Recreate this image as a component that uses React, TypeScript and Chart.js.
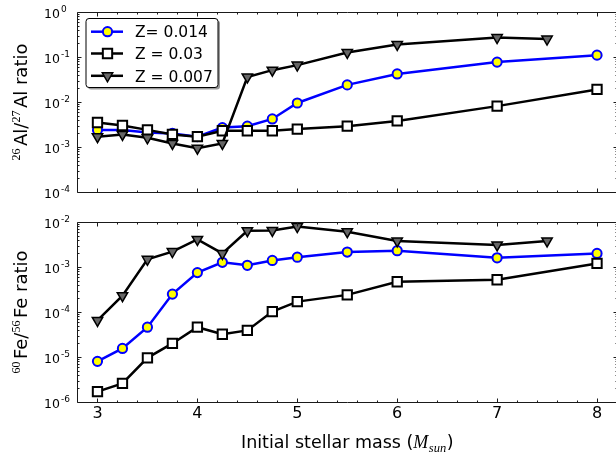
import React, { useEffect, useRef } from 'react';
import { Chart, registerables } from 'chart.js';

Chart.register(...registerables);

// ---------- data ----------
const massesMain = [3, 3.25, 3.5, 3.75, 4, 4.25, 4.5, 4.75, 5, 5.5, 6, 7, 8];
const massesLowZ = [3, 3.25, 3.5, 3.75, 4, 4.25, 4.5, 4.75, 5, 5.5, 6, 7, 7.5];

const seriesLabels = ['Z= 0.014', 'Z = 0.03', 'Z = 0.007'];

const alZ014 = [2.4e-3, 2.4e-3, 2.1e-3, 2.0e-3, 1.7e-3, 2.7e-3, 2.9e-3, 4.2e-3, 9.5e-3, 2.4e-2, 4.2e-2, 7.7e-2, 0.11];
const alZ03 = [3.5e-3, 3.0e-3, 2.4e-3, 1.9e-3, 1.7e-3, 2.3e-3, 2.3e-3, 2.3e-3, 2.5e-3, 2.9e-3, 3.8e-3, 8.1e-3, 1.9e-2];
const alZ007 = [1.7e-3, 1.9e-3, 1.6e-3, 1.2e-3, 9.4e-4, 1.2e-3, 3.6e-2, 5.1e-2, 6.6e-2, 0.126, 0.19, 0.27, 0.25];

const feZ014 = [8.0e-6, 1.55e-5, 4.6e-5, 2.5e-4, 7.5e-4, 1.27e-3, 1.09e-3, 1.4e-3, 1.65e-3, 2.15e-3, 2.3e-3, 1.6e-3, 2.0e-3];
const feZ03 = [1.7e-6, 2.6e-6, 9.6e-6, 2.0e-5, 4.6e-5, 3.2e-5, 3.9e-5, 1.02e-4, 1.7e-4, 2.4e-4, 4.7e-4, 5.2e-4, 1.2e-3];
const feZ007 = [6.5e-5, 2.3e-4, 1.48e-3, 2.2e-3, 4.1e-3, 2.0e-3, 6.4e-3, 6.5e-3, 7.9e-3, 6.1e-3, 3.8e-3, 3.1e-3, 3.8e-3];

const xTickValues = [3, 4, 5, 6, 7, 8];
const xMin = 2.8;
const xMax = 8.2;
const topDecades = [-4, -3, -2, -1, 0];
const bottomDecades = [-6, -5, -4, -3, -2];

// ---------- styles ----------
const SANS = '"DejaVu Sans", sans-serif';
const SERIF = '"Liberation Serif", "DejaVu Serif", serif';

type Style = { color: string; fill: string; shape: 'circle' | 'rect' | 'triangle'; radius: number; bw: number; lw: number };
const STYLES: Style[] = [
  { color: '#0000ff', fill: '#ffff00', shape: 'circle', radius: 4.6, bw: 2, lw: 2.5 },
  { color: '#000000', fill: '#ffffff', shape: 'rect', radius: 6.6, bw: 2, lw: 2.5 },
  { color: '#000000', fill: '#666666', shape: 'triangle', radius: 6, bw: 1.5, lw: 2.5 },
];

type Seg = { t: string; font: string; dy?: number; gap?: number };

function segWidth(ctx: CanvasRenderingContext2D, segs: Seg[]) {
  let w = 0;
  for (const s of segs) {
    ctx.font = s.font;
    w += ctx.measureText(s.t).width + (s.gap || 0);
  }
  return w;
}

function drawSegs(ctx: CanvasRenderingContext2D, segs: Seg[], x: number, y: number) {
  let cx = x;
  for (const s of segs) {
    ctx.font = s.font;
    ctx.fillText(s.t, cx, y + (s.dy || 0));
    cx += ctx.measureText(s.t).width + (s.gap || 0);
  }
}

function drawMarker(ctx: CanvasRenderingContext2D, st: Style, x: number, y: number) {
  ctx.save();
  ctx.beginPath();
  const r = st.radius;
  if (st.shape === 'circle') {
    ctx.arc(x, y, r, 0, Math.PI * 2);
  } else if (st.shape === 'rect') {
    const s = Math.SQRT1_2 * r;
    ctx.rect(x - s, y - s, 2 * s, 2 * s);
  } else {
    let rad = Math.PI;
    ctx.moveTo(x + Math.sin(rad) * r, y - Math.cos(rad) * r);
    rad += (2 * Math.PI) / 3;
    ctx.lineTo(x + Math.sin(rad) * r, y - Math.cos(rad) * r);
    rad += (2 * Math.PI) / 3;
    ctx.lineTo(x + Math.sin(rad) * r, y - Math.cos(rad) * r);
    ctx.closePath();
  }
  ctx.fillStyle = st.fill;
  ctx.fill();
  ctx.lineWidth = st.bw;
  ctx.strokeStyle = st.color;
  ctx.stroke();
  ctx.restore();
}

function makeDatasets(vals: number[][]) {
  const xs = [massesMain, massesMain, massesLowZ];
  return vals.map((v, i) => {
    const st = STYLES[i];
    return {
      label: seriesLabels[i],
      data: xs[i].map((x, j) => ({ x, y: v[j] })),
      borderColor: st.color,
      borderWidth: st.lw,
      backgroundColor: st.fill,
      pointStyle: st.shape,
      pointRadius: st.radius,
      pointBorderWidth: st.bw,
      pointBorderColor: st.color,
      pointBackgroundColor: st.fill,
      pointRotation: st.shape === 'triangle' ? 180 : 0,
      fill: false,
      tension: 0,
      order: 3 - i,
    };
  });
}

type PanelCfg = {
  decades: number[];
  showX: boolean;
  title: Seg[];
  legend: boolean;
};

function framePlugin(cfg: PanelCfg) {
  return {
    id: 'frame',
    afterDraw(chart: any) {
      const { ctx, chartArea: a, scales } = chart;
      const xs = scales.x;
      const ys = scales.y;
      const L = Math.floor(a.left) + 0.5;
      const R = Math.floor(a.right) + 0.5;
      const T = Math.floor(a.top) + 0.5;
      const B = Math.floor(a.bottom) + 0.5;
      ctx.save();
      ctx.strokeStyle = '#1a1a1a';
      ctx.lineWidth = 1;
      ctx.beginPath();
      ctx.rect(L, T, R - L, B - T);
      ctx.stroke();
      ctx.beginPath();
      for (let k = Math.round(xMin * 5) + 1; k < Math.round(xMax * 5); k++) {
        const v = k / 5;
        const px = Math.round(xs.getPixelForValue(v)) + 0.5;
        const len = k % 5 === 0 ? 4 : 2;
        ctx.moveTo(px, B);
        ctx.lineTo(px, B - len);
        ctx.moveTo(px, T);
        ctx.lineTo(px, T + len);
      }
      const dTop = cfg.decades[cfg.decades.length - 1];
      for (const d of cfg.decades) {
        const py = Math.round(ys.getPixelForValue(Math.pow(10, d))) + 0.5;
        ctx.moveTo(L, py);
        ctx.lineTo(L + 4, py);
        ctx.moveTo(R, py);
        ctx.lineTo(R - 4, py);
        if (d < dTop) {
          for (let m = 2; m <= 9; m++) {
            const pm = Math.round(ys.getPixelForValue(m * Math.pow(10, d))) + 0.5;
            ctx.moveTo(L, pm);
            ctx.lineTo(L + 2, pm);
            ctx.moveTo(R, pm);
            ctx.lineTo(R - 2, pm);
          }
        }
      }
      ctx.stroke();

      ctx.fillStyle = '#000';
      ctx.textBaseline = 'alphabetic';
      for (const d of cfg.decades) {
        const py = ys.getPixelForValue(Math.pow(10, d));
        ctx.font = `12.5px ${SANS}`;
        ctx.textAlign = 'right';
        ctx.fillText('10', 60, py + 6);
        ctx.font = `9px ${SANS}`;
        ctx.textAlign = 'left';
        ctx.fillText(String(d), 61, py - 0.5);
      }

      ctx.save();
      ctx.textAlign = 'left';
      ctx.translate(27, (a.top + a.bottom) / 2);
      ctx.rotate(-Math.PI / 2);
      const tw = segWidth(ctx, cfg.title);
      drawSegs(ctx, cfg.title, -tw / 2, 0);
      ctx.restore();

      if (cfg.showX) {
        ctx.font = `16px ${SANS}`;
        ctx.textAlign = 'center';
        for (const v of xTickValues) {
          ctx.fillText(String(v), xs.getPixelForValue(v), a.bottom + 16);
        }
        const xt: Seg[] = [
          { t: 'Initial stellar mass (', font: `17.5px ${SANS}` },
          { t: 'M', font: `italic 18px ${SERIF}`, gap: 0.5 },
          { t: 'sun', font: `italic 12.5px ${SERIF}`, dy: 3.5, gap: 0.5 },
          { t: ')', font: `17.5px ${SANS}` },
        ];
        ctx.textAlign = 'left';
        const w = segWidth(ctx, xt);
        drawSegs(ctx, xt, (a.left + a.right) / 2 - w / 2, a.bottom + 46);
      }

      if (cfg.legend) {
        const bx = 86, by = 18.5, bw = 132, bh = 69, rr = 3;
        const path = (ox: number, oy: number) => {
          ctx.beginPath();
          ctx.moveTo(bx + ox + rr, by + oy);
          ctx.lineTo(bx + ox + bw - rr, by + oy);
          ctx.quadraticCurveTo(bx + ox + bw, by + oy, bx + ox + bw, by + oy + rr);
          ctx.lineTo(bx + ox + bw, by + oy + bh - rr);
          ctx.quadraticCurveTo(bx + ox + bw, by + oy + bh, bx + ox + bw - rr, by + oy + bh);
          ctx.lineTo(bx + ox + rr, by + oy + bh);
          ctx.quadraticCurveTo(bx + ox, by + oy + bh, bx + ox, by + oy + bh - rr);
          ctx.lineTo(bx + ox, by + oy + rr);
          ctx.quadraticCurveTo(bx + ox, by + oy, bx + ox + rr, by + oy);
          ctx.closePath();
        };
        path(2, 2);
        ctx.fillStyle = '#9a9a9a';
        ctx.fill();
        path(0, 0);
        ctx.fillStyle = '#ffffff';
        ctx.fill();
        ctx.strokeStyle = '#000';
        ctx.lineWidth = 1;
        ctx.stroke();
        const rows = [31.7, 53.5, 75.8];
        for (let i = 0; i < 3; i++) {
          const st = STYLES[i];
          const ry = rows[i];
          ctx.beginPath();
          ctx.moveTo(91, ry);
          ctx.lineTo(123, ry);
          ctx.strokeStyle = st.color;
          ctx.lineWidth = st.lw;
          ctx.stroke();
          drawMarker(ctx, st, 107.5, ry);
          ctx.fillStyle = '#000';
          ctx.font = `15.5px ${SANS}`;
          ctx.textAlign = 'left';
          ctx.fillText(seriesLabels[i], 135, ry + 5.7);
        }
      }
      ctx.restore();
    },
  };
}

function makeConfig(vals: number[][], yMin: number, yMax: number, padBottom: number, cfg: PanelCfg): any {
  return {
    type: 'line',
    data: { datasets: makeDatasets(vals) },
    options: {
      animation: false,
      responsive: false,
      maintainAspectRatio: false,
      layout: { autoPadding: false, padding: { left: 77.5, right: 3, top: 12, bottom: padBottom } },
      scales: {
        x: { type: 'linear', min: xMin, max: xMax, display: false },
        y: { type: 'logarithmic', min: yMin, max: yMax, display: false },
      },
      plugins: { legend: { display: false }, tooltip: { enabled: false } },
      events: [],
    },
    plugins: [framePlugin(cfg)],
  };
}

export default function App() {
  const topRef = useRef<HTMLCanvasElement>(null);
  const botRef = useRef<HTMLCanvasElement>(null);

  useEffect(() => {
    const topTitle: Seg[] = [
      { t: '26', font: `12px ${SERIF}`, dy: -7, gap: 2.5 },
      { t: 'Al/', font: `18px ${SANS}` },
      { t: '27', font: `12px ${SERIF}`, dy: -7, gap: 2.5 },
      { t: 'Al ratio', font: `18px ${SANS}` },
    ];
    const botTitle: Seg[] = [
      { t: '60', font: `12px ${SERIF}`, dy: -7, gap: 2.5 },
      { t: 'Fe/', font: `18px ${SANS}` },
      { t: '56', font: `12px ${SERIF}`, dy: -7, gap: 2.5 },
      { t: 'Fe ratio', font: `18px ${SANS}` },
    ];
    const c1 = new Chart(
      topRef.current as HTMLCanvasElement,
      makeConfig([alZ014, alZ03, alZ007], 1e-4, 1, 18, { decades: topDecades, showX: false, title: topTitle, legend: true })
    );
    const c2 = new Chart(
      botRef.current as HTMLCanvasElement,
      makeConfig([feZ014, feZ03, feZ007], 1e-6, 1e-2, 51, { decades: bottomDecades, showX: true, title: botTitle, legend: false })
    );
    return () => {
      c1.destroy();
      c2.destroy();
    };
  }, []);

  return (
    <div style={{ position: 'fixed', left: 0, top: 0, width: 616, height: 453, overflow: 'hidden', background: '#fff' }}>
      <canvas ref={topRef} width={620} height={210} style={{ position: 'absolute', left: 0, top: 0, width: 620, height: 210 }} />
      <canvas ref={botRef} width={620} height={243} style={{ position: 'absolute', left: 0, top: 210, width: 620, height: 243 }} />
    </div>
  );
}
